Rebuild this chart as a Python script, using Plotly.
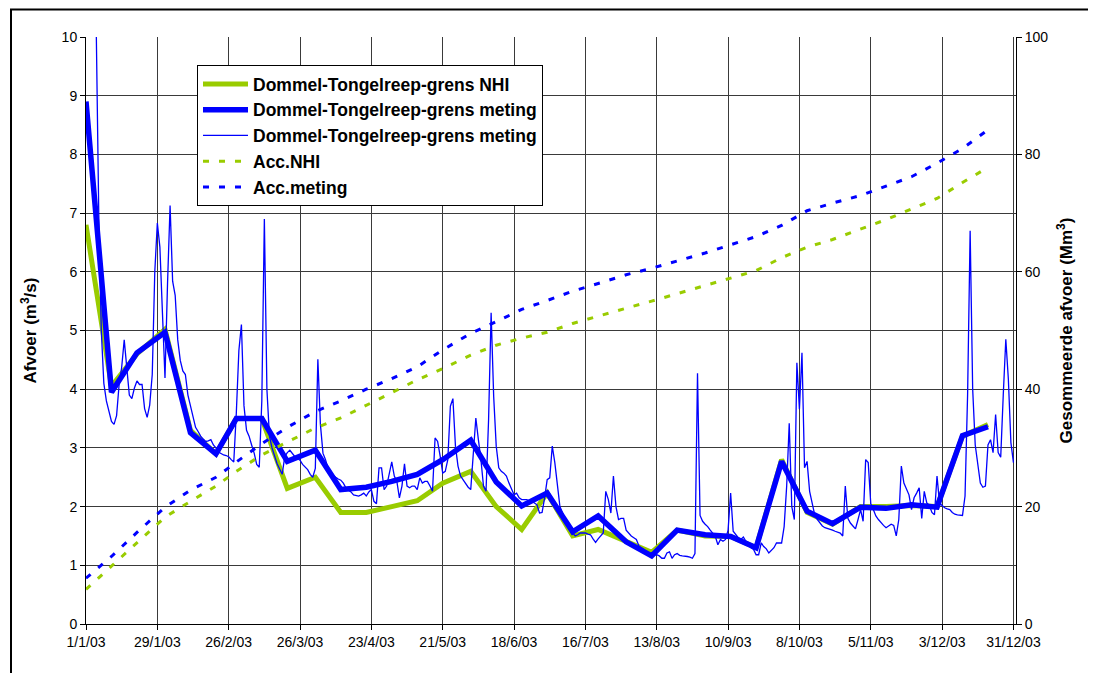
import pandas as pd
import plotly.graph_objects as go

# ---------------- data ----------------
dekad_dates = [
    "2003-01-01", "2003-01-11", "2003-01-21", "2003-02-01", "2003-02-11", "2003-02-21",
    "2003-03-01", "2003-03-11", "2003-03-21", "2003-04-01", "2003-04-11", "2003-04-21",
    "2003-05-01", "2003-05-11", "2003-05-21", "2003-06-01", "2003-06-11", "2003-06-21",
    "2003-07-01", "2003-07-11", "2003-07-21", "2003-08-01", "2003-08-11", "2003-08-21",
    "2003-09-01", "2003-09-11", "2003-09-21", "2003-10-01", "2003-10-11", "2003-10-21",
    "2003-11-01", "2003-11-11", "2003-11-21", "2003-12-01", "2003-12-11", "2003-12-21",
]

nhi_dekad = [6.8, 4.05, 4.6, 5.02, 3.3, 2.9, 3.5, 3.5, 2.31, 2.5, 1.9, 1.9,
             2.0, 2.1, 2.4, 2.6, 2.0, 1.61, 2.23, 1.5, 1.61, 1.4, 1.22, 1.6,
             1.5, 1.49, 1.3, 2.8, 1.9, 1.7, 2.0, 2.0, 2.02, 2.0, 3.2, 3.4]

meting_dekad = [8.9, 3.95, 4.62, 4.97, 3.26, 2.90, 3.5, 3.5, 2.77, 2.96, 2.29, 2.33,
                2.43, 2.55, 2.8, 3.13, 2.42, 2.01, 2.23, 1.57, 1.84, 1.4, 1.16, 1.6,
                1.52, 1.49, 1.3, 2.77, 1.92, 1.71, 1.99, 1.97, 2.03, 1.99, 3.21, 3.36]

acc_nhi = [5.9, 9.9, 13.8, 18.2, 20.9, 23.5, 26.0, 28.8, 31.0, 33.4, 35.1, 37.2,
           39.4, 41.6, 43.5, 45.8, 47.5, 48.7, 49.7, 51.2, 52.5, 53.8, 55.0, 56.3,
           57.6, 58.9, 60.2, 62.4, 64.2, 65.5, 67.3, 68.9, 70.7, 72.5, 75.2, 77.8]

acc_meting = [7.8, 11.5, 15.6, 19.9, 22.8, 25.0, 27.6, 30.7, 33.5, 36.2, 38.0, 40.0,
              41.8, 43.8, 46.7, 49.5, 51.5, 53.6, 55.1, 56.7, 58.0, 59.5, 60.6, 61.8,
              63.2, 64.6, 66.0, 67.9, 70.4, 71.7, 73.0, 74.6, 76.2, 78.5, 81.0, 84.2]

daily_start = "2003-01-01"
meting_daily = [
    13.0, 14.0, 13.0, 12.0, 10.2, 7.0, 5.0, 4.1, 3.8, 3.6,
    3.45, 3.4, 3.55, 4.08, 4.37, 4.84, 4.31, 3.9, 3.84, 4.02,
    4.14, 4.08, 4.08, 3.67, 3.52, 3.73, 4.25, 6.0, 6.83, 6.42,
    5.3, 4.19, 5.8, 7.13, 5.84, 5.6, 4.84, 4.49, 4.31, 4.25,
    3.9, 3.7, 3.5, 3.35, 3.28, 3.2, 3.15, 3.11, 3.12, 3.14,
    3.05, 3.0, 2.93, 2.9, 2.88, 2.87, 2.85, 2.8, 2.76, 3.6,
    4.66, 5.1, 3.72, 3.3, 3.2, 3.05, 2.91, 2.72, 2.67, 3.8,
    6.9, 4.0, 3.2, 3.0, 2.85, 2.73, 2.64, 2.55, 2.85, 2.92,
    2.96, 2.9, 2.85, 2.82, 2.79, 2.72, 2.67, 2.63, 2.55, 2.5,
    2.65, 4.51, 3.4, 2.91, 2.8, 2.65, 2.57, 2.53, 2.5, 2.47,
    2.45, 2.4, 2.32, 2.28, 2.25, 2.2, 2.19, 2.18, 2.2, 2.23,
    2.18, 2.25, 2.29, 2.09, 2.05, 2.66, 2.66, 2.29, 2.35, 2.57,
    2.76, 2.52, 2.43, 2.15, 2.35, 2.73, 2.35, 2.32, 2.35, 2.35,
    2.29, 2.49, 2.4, 2.43, 2.43, 2.35, 2.26, 3.17, 3.11, 2.86,
    2.57, 2.6, 2.8, 3.71, 3.84, 3.03, 2.69, 2.52, 2.45, 2.38,
    2.33, 2.29, 2.86, 3.51, 3.14, 2.8, 2.35, 2.26, 3.48, 5.3,
    3.88, 3.03, 2.66, 2.6, 2.57, 2.52, 2.4, 2.29, 2.2, 2.23,
    2.15, 2.12, 2.12, 2.12, 2.1, 2.09, 2.06, 2.03, 1.89, 1.9,
    2.15, 2.46, 2.49, 3.03, 2.75, 2.35, 2.0, 1.9, 1.78, 1.7,
    1.67, 1.55, 1.5, 1.52, 1.55, 1.55, 1.55, 1.53, 1.52, 1.45,
    1.39, 1.45, 1.5, 1.55, 2.26, 2.12, 1.89, 2.52, 2.0, 1.78,
    1.8, 1.8, 1.6, 1.55, 1.5, 1.47, 1.44, 1.33, 1.3, 1.27,
    1.21, 1.2, 1.18, 1.18, 1.18, 1.16, 1.12, 1.12, 1.21, 1.23,
    1.12, 1.18, 1.2, 1.17, 1.16, 1.16, 1.15, 1.14, 1.12, 1.2,
    4.27, 1.85, 1.75, 1.7, 1.66, 1.6, 1.55, 1.49, 1.35, 1.44,
    1.41, 1.44, 1.6, 2.23, 1.58, 1.52, 1.47, 1.44, 1.48, 1.41,
    1.35, 1.3, 1.27, 1.18, 1.18, 1.38, 1.32, 1.28, 1.21, 1.25,
    1.3, 1.38, 1.38, 1.38, 1.66, 2.35, 3.42, 2.0, 1.78, 4.45,
    3.66, 4.62, 2.66, 2.77, 2.26, 2.06, 1.86, 1.78, 1.72, 1.67,
    1.64, 1.63, 1.61, 1.6, 1.58, 1.57, 1.55, 1.5, 2.35, 1.8,
    1.72, 1.67, 1.62, 1.78, 1.95, 1.75, 2.8, 2.75, 2.05, 1.95,
    1.84, 1.78, 1.72, 1.68, 1.64, 1.67, 1.7, 1.68, 1.5, 1.78,
    2.69, 2.4, 2.3, 2.2, 1.95, 2.15, 2.23, 2.32, 1.8, 2.26,
    2.06, 2.02, 1.9, 1.86, 2.52, 2.06, 2.02, 1.98, 1.96, 1.95,
    1.9, 1.87, 1.86, 1.86, 1.85, 2.18, 3.9, 6.7, 4.0, 3.05,
    2.7, 2.4, 2.33, 2.35, 3.05, 3.14, 2.92, 3.57, 2.92, 2.84,
    3.9, 4.85, 4.17, 3.09, 2.75,
]

tick_dates = ["2003-01-01", "2003-01-29", "2003-02-26", "2003-03-26", "2003-04-23",
              "2003-05-21", "2003-06-18", "2003-07-16", "2003-08-13", "2003-09-10",
              "2003-10-08", "2003-11-05", "2003-12-03", "2003-12-31"]
tick_labels = ["1/1/03", "29/1/03", "26/2/03", "26/3/03", "23/4/03", "21/5/03",
               "18/6/03", "16/7/03", "13/8/03", "10/9/03", "8/10/03", "5/11/03",
               "3/12/03", "31/12/03"]

names = ["Dommel-Tongelreep-grens NHI", "Dommel-Tongelreep-grens meting",
         "Dommel-Tongelreep-grens meting", "Acc.NHI", "Acc.meting"]

# ---------------- figure ----------------
GREEN = "#99CC00"
BLUE = "#0000FF"
FONT = "Liberation Sans, Arial, sans-serif"

daily_dates = pd.date_range(daily_start, periods=len(meting_daily), freq="D")

fig = go.Figure()
fig.add_trace(go.Scatter(x=dekad_dates, y=nhi_dekad, mode="lines", name="<b>%s</b>" % names[0],
                         line=dict(color=GREEN, width=5)))
fig.add_trace(go.Scatter(x=dekad_dates, y=meting_dekad, mode="lines", name="<b>%s</b>" % names[1],
                         line=dict(color=BLUE, width=5.5)))
fig.add_trace(go.Scatter(x=daily_dates, y=meting_daily, mode="lines", name="<b>%s</b>" % names[2],
                         line=dict(color=BLUE, width=1.3)))
fig.add_trace(go.Scatter(x=dekad_dates, y=acc_nhi, mode="lines", name="<b>%s</b>" % names[3],
                         yaxis="y2", line=dict(color=GREEN, width=3, dash="6px,10px")))
fig.add_trace(go.Scatter(x=dekad_dates, y=acc_meting, mode="lines", name="<b>%s</b>" % names[4],
                         yaxis="y2", line=dict(color=BLUE, width=3, dash="6px,10px")))

# the page body adds an 8 px offset; build the figure in page coordinates minus it
OFF = 8
W, H = 1096 - OFF, 673 - OFF
ML, MR, MT, MB = 86 - OFF, 1096 - 1016, 37 - OFF, 673 - 624
pw, ph = W - ML - MR, H - MT - MB


def px(x):  # page x -> paper fraction
    return (x - OFF - ML) / pw


def py(y):  # page y -> paper fraction
    return (H - MB - (y - OFF)) / ph


grid = "#3a3a3a"
fig.update_layout(
    width=W, height=H,
    margin=dict(l=ML, r=MR, t=MT, b=MB, autoexpand=False),
    paper_bgcolor="white", plot_bgcolor="white",
    font=dict(family=FONT, size=14, color="black"),
    showlegend=True,
    legend=dict(x=px(197), y=py(65), xanchor="left", yanchor="top",
                bgcolor="white", bordercolor="black", borderwidth=1,
                font=dict(family=FONT, size=17.5, color="black"),
                tracegroupgap=0, itemwidth=45),
    xaxis=dict(type="date", range=["2003-01-01", "2004-01-01"],
               tickmode="array", tickvals=tick_dates, ticktext=tick_labels,
               showgrid=True, gridcolor=grid, gridwidth=1,
               showline=True, linecolor="black", linewidth=1,
               ticks="outside", ticklen=5, tickcolor="black",
               tickfont=dict(family=FONT, size=14, color="black"),
               zeroline=False, automargin=False),
    yaxis=dict(range=[0, 10], dtick=1, tick0=0,
               showgrid=True, gridcolor=grid, gridwidth=1,
               showline=True, linecolor="black", linewidth=1,
               ticks="outside", ticklen=5, tickcolor="black",
               tickfont=dict(family=FONT, size=14, color="black"),
               zeroline=False, automargin=False,
               title=dict(text="<b>Afvoer (m<sup>3</sup>/s)</b>",
                          font=dict(family=FONT, size=17, color="black"), standoff=20)),
    yaxis2=dict(range=[0, 100], dtick=20, tick0=0, overlaying="y", side="right",
                showgrid=False,
                showline=True, linecolor="black", linewidth=1,
                ticks="outside", ticklen=5, tickcolor="black",
                tickfont=dict(family=FONT, size=14, color="black"),
                zeroline=False, automargin=False,
                title=dict(text="<b>Gesommeerde afvoer (Mm<sup>3</sup>)</b>",
                           font=dict(family=FONT, size=17, color="black"), standoff=12)),
    shapes=[dict(type="rect", xref="paper", yref="paper",
                 x0=px(11), x1=px(1130), y0=py(710), y1=py(9.5),
                 line=dict(color="black", width=2), fillcolor="rgba(0,0,0,0)",
                 layer="above")],
)

fig.write_html("out.html")
